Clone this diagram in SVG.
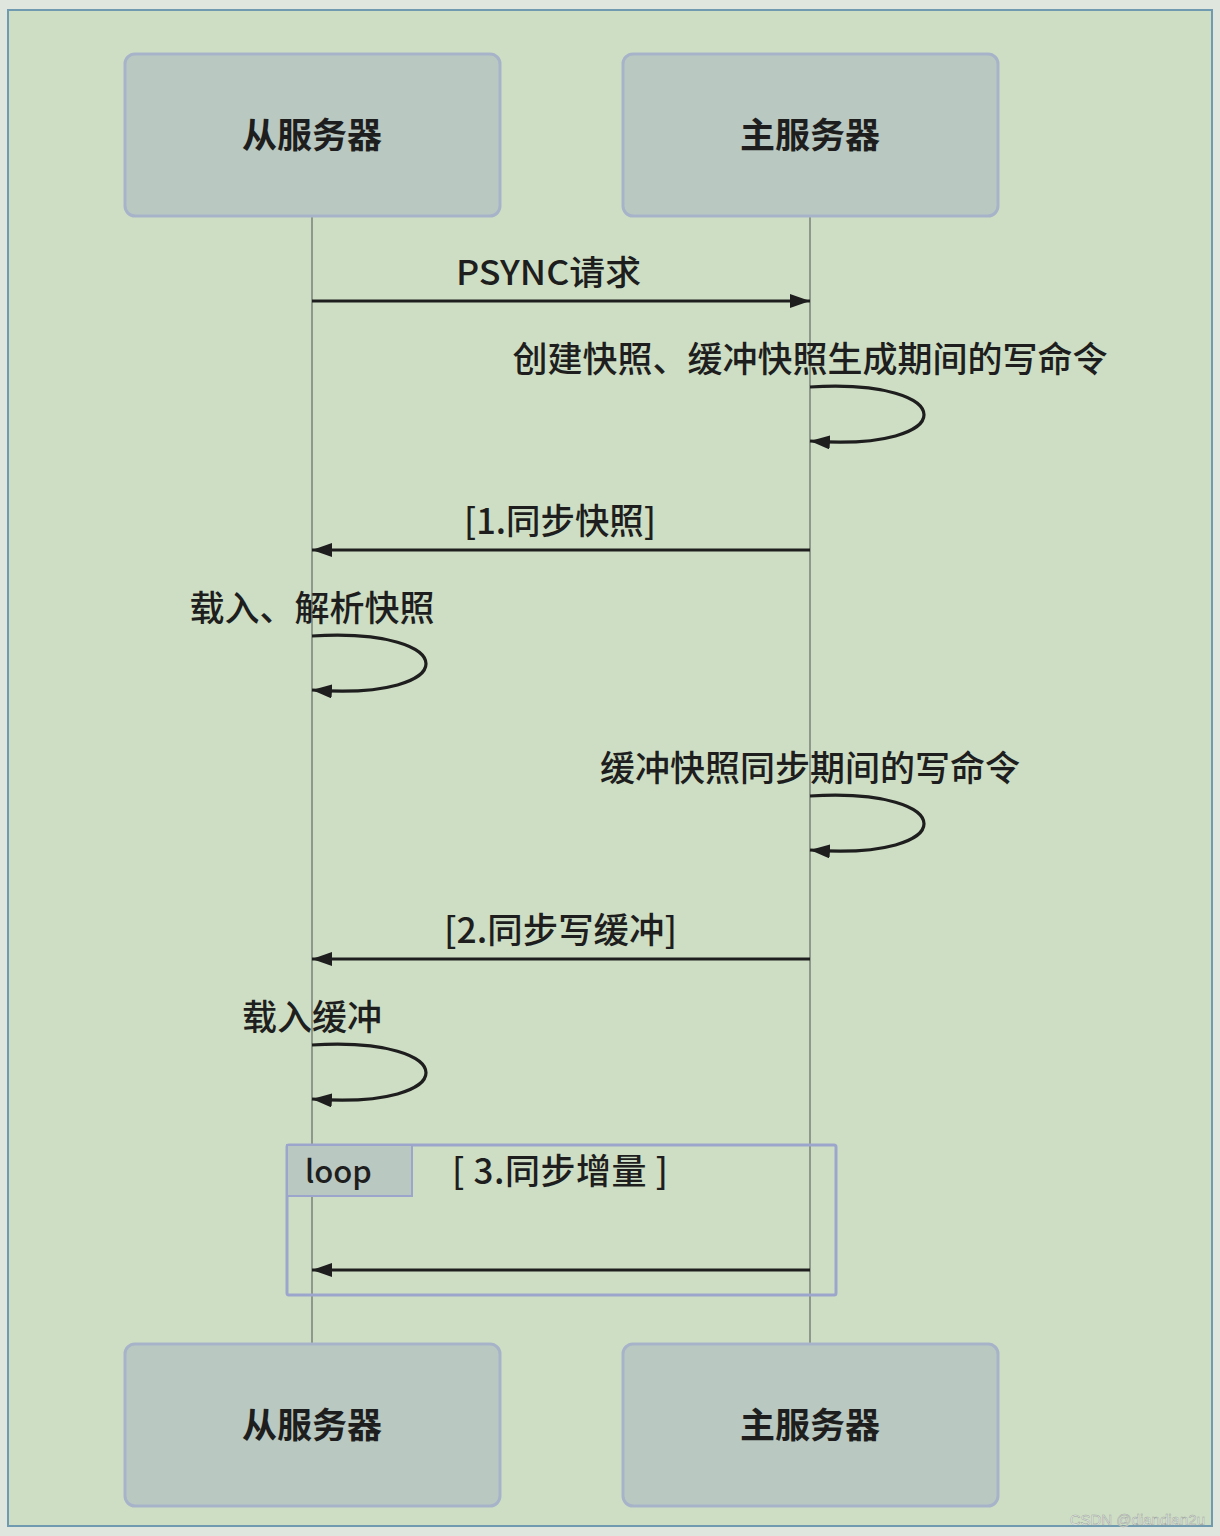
<svg xmlns="http://www.w3.org/2000/svg" width="1220" height="1536" viewBox="0 0 1220 1536">
<defs>
<style>
.t{font-family:"Noto Sans CJK SC","Noto Sans",sans-serif;fill:#1e1e1e;font-weight:500;}
.h{font-size:35px;font-weight:700;}
.box{fill:#b9c8c0;stroke:#a7b3c9;stroke-width:3;}
.life{stroke:#8e998c;stroke-width:2;fill:none;}
.msg{stroke:#1e1e1e;stroke-width:3.2;fill:none;}
</style>
<marker id="ah" viewBox="0 0 20 14" refX="20" refY="7" markerWidth="20" markerHeight="14" markerUnits="userSpaceOnUse" orient="auto">
<path d="M0,0 L20,7 L0,14 Z" fill="#1e1e1e"/>
</marker>
</defs>
<rect x="0" y="0" width="1220" height="1536" fill="#dfe6dd"/>
<rect x="8" y="10" width="1204" height="1516" fill="#cedec4" stroke="#6f9ab0" stroke-width="2"/>
<g id="lifelines">
<line class="life" x1="312" y1="216" x2="312" y2="1344"/>
<line class="life" x1="810" y1="216" x2="810" y2="1344"/>
</g>
<g id="slave-top"><rect class="box" x="125" y="54" width="375" height="162" rx="10"/><text class="t h" x="312" y="148" text-anchor="middle">从服务器</text></g>
<g id="master-top"><rect class="box" x="623" y="54" width="375" height="162" rx="10"/><text class="t h" x="810" y="148" text-anchor="middle">主服务器</text></g>
<g id="slave-bottom"><rect class="box" x="125" y="1344" width="375" height="162" rx="10"/><text class="t h" x="312" y="1438" text-anchor="middle">从服务器</text></g>
<g id="master-bottom"><rect class="box" x="623" y="1344" width="375" height="162" rx="10"/><text class="t h" x="810" y="1438" text-anchor="middle">主服务器</text></g>
<g id="loop-frame">
<rect x="287" y="1145" width="549" height="150" fill="none" stroke="#9ca6cc" stroke-width="3" rx="2"/>
<path d="M287,1145 H412 V1196 H287 Z" fill="#b9c8c0" stroke="#9ca6cc" stroke-width="2"/>
<text class="t" x="305" y="1183" font-size="31">loop</text>
<text class="t" x="452" y="1184" font-size="35" textLength="216" lengthAdjust="spacing">[ 3.同步增量 ]</text>
</g>
<g id="connectors">
<line class="msg" x1="312" y1="301" x2="810" y2="301" marker-end="url(#ah)"/>
<path class="msg" d="M810,387 C962,378 962,452 810,441" marker-end="url(#ah)"/>
<line class="msg" x1="810" y1="550" x2="312" y2="550" marker-end="url(#ah)"/>
<path class="msg" d="M312,636 C464,627 464,701 312,690" marker-end="url(#ah)"/>
<path class="msg" d="M810,796 C962,787 962,861 810,850" marker-end="url(#ah)"/>
<line class="msg" x1="810" y1="959" x2="312" y2="959" marker-end="url(#ah)"/>
<path class="msg" d="M312,1045 C464,1036 464,1110 312,1099" marker-end="url(#ah)"/>
<line class="msg" x1="810" y1="1270" x2="312" y2="1270" marker-end="url(#ah)"/>
</g>
<g id="labels">
<text class="t" x="456" y="285" font-size="34" textLength="185" lengthAdjust="spacingAndGlyphs">PSYNC请求</text>
<text class="t" x="810" y="372" font-size="35" text-anchor="middle">创建快照、缓冲快照生成期间的写命令</text>
<text class="t" x="464" y="534" font-size="35" textLength="192" lengthAdjust="spacingAndGlyphs">[1.同步快照]</text>
<text class="t" x="312" y="621" font-size="35" text-anchor="middle">载入、解析快照</text>
<text class="t" x="810" y="781" font-size="35" text-anchor="middle">缓冲快照同步期间的写命令</text>
<text class="t" x="444" y="943" font-size="35" textLength="233" lengthAdjust="spacingAndGlyphs">[2.同步写缓冲]</text>
<text class="t" x="312" y="1030" font-size="35" text-anchor="middle">载入缓冲</text>
</g>
<text x="1205" y="1525" font-family="Liberation Sans,sans-serif" font-size="15" fill="#f2f4f0" stroke="#9aa39a" stroke-width="0.5" text-anchor="end">CSDN @diandian2u</text>
</svg>
